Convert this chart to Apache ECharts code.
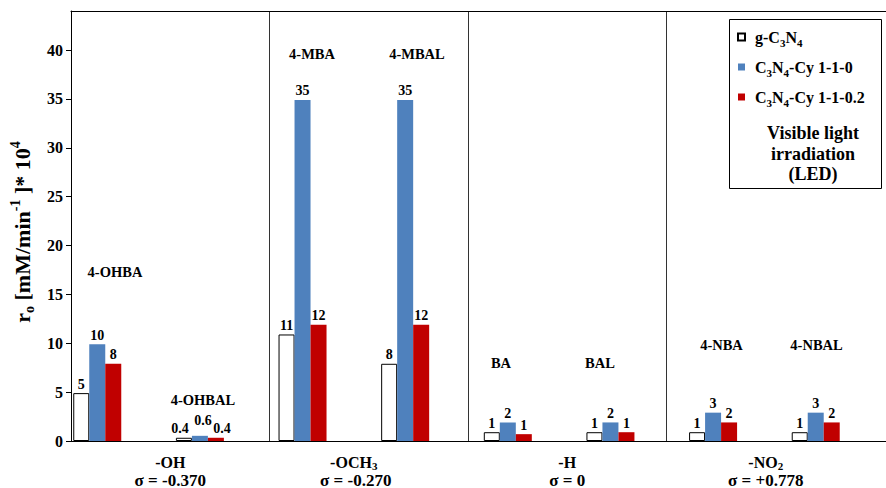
<!DOCTYPE html>
<html><head><meta charset="utf-8">
<script src="https://cdn.jsdelivr.net/npm/echarts@6/dist/echarts.min.js"></script>
<style>html,body{margin:0;padding:0;background:#fff}#c{width:886px;height:488px}</style>
</head><body><div id="c"></div>
<script>
// ---- data ----
const categories = ['4-OHBA','4-OHBAL','4-MBA','4-MBAL','BA','BAL','4-NBA','4-NBAL'];
const seriesNames = ['g-C3N4','C3N4-Cy 1-1-0','C3N4-Cy 1-1-0.2'];
const gC3N4 = [4.9, 0.33, 10.9, 7.9, 0.9, 0.9, 0.9, 0.9];
const cy110 = [9.9, 0.53, 34.9, 34.9, 1.9, 1.9, 2.9, 2.9];
const cy1102 = [7.9, 0.33, 11.9, 11.9, 0.7, 0.9, 1.9, 1.9];
const gC3N4Labels = ['5','0.4','11','8','1','1','1','1'];
const cy110Labels = ['10','0.6','35','35','2','2','3','3'];
const cy1102Labels = ['8','0.4','12','12','1','1','2','2'];
const yTicks = [0,5,10,15,20,25,30,35,40];
const groups = ['-OH','-OCH3','-H','-NO2'];
const sigmas = ['σ = -0.370','σ = -0.270','σ = 0','σ = +0.778'];

// ---- helpers ----
const FF = '"Liberation Serif","Times New Roman",serif';
function chem(s, a, b) {
  let out = '', buf = '';
  for (let i = 0; i < s.length; i++) {
    const ch = s[i];
    if (/\d/.test(ch) && i > 0 && /[A-Z]/.test(s[i-1])) {
      if (buf) { out += '{' + a + '|' + buf + '}'; buf = ''; }
      out += '{' + b + '|' + ch + '}';
    } else buf += ch;
  }
  if (buf) out += '{' + a + '|' + buf + '}';
  return out;
}
const barLabel = (arr) => ({
  show: true, position: 'top', distance: 2, color: '#000',
  fontFamily: FF, fontWeight: 'bold', fontSize: 14,
  formatter: p => arr[p.dataIndex]
});
// small label nudges for the crowded 4-OHBAL cluster (index 1)
const labelNudge = [[-4, 0], [3, -6], [6, 0]];
const withNudge = (arr, s) => arr.map((v, i) => i === 1 ? {value: v, label: {offset: labelNudge[s]}} : v);
const annot = [
  {name: '4-OHBA', y: 17.3, dx: 17.7},
  {name: '4-OHBAL', y: 4.2, dx: 3},
  {name: '4-MBA', y: 39.6, dx: 9.5},
  {name: '4-MBAL', y: 39.6, dx: 11.8},
  {name: 'BA', y: 8.0, dx: -6.8},
  {name: 'BAL', y: 8.0, dx: -10.5},
  {name: '4-NBA', y: 9.8, dx: 8.4},
  {name: '4-NBAL', y: 9.8, dx: 0.8}
];

const chart = echarts.init(document.getElementById('c'), null, {renderer: 'svg'});
const TOP = 11, BOTTOM = 47;
const tStyle = {fontFamily: FF, fontWeight: 'bold', fontSize: 16, lineHeight: 18, color: '#000'};
const tsStyle = {fontFamily: FF, fontWeight: 'bold', fontSize: 11, lineHeight: 11, verticalAlign: 'bottom', color: '#000'};
const sStyle = {fontFamily: FF, fontWeight: 'bold', fontSize: 17, lineHeight: 18, color: '#000'};
const option = {
  animation: false,
  backgroundColor: '#fff',
  grid: [
    {left: 71, right: 0, top: TOP, bottom: BOTTOM, outerBoundsMode: 'none'},
    {left: 71, right: 21, top: TOP, bottom: BOTTOM, outerBoundsMode: 'none'},
    {left: 45.94, right: 18.96, top: TOP, bottom: BOTTOM, outerBoundsMode: 'none'}
  ],
  xAxis: [
    {type: 'value', gridIndex: 0, min: 0, max: 1, position: 'bottom',
     axisLine: {show: true, onZero: false, lineStyle: {color: '#000', width: 1}},
     axisTick: {show: false}, axisLabel: {show: false}, splitLine: {show: false}},
    {type: 'value', gridIndex: 0, min: 0, max: 1, position: 'top',
     axisLine: {show: true, onZero: false, lineStyle: {color: '#000', width: 1}},
     axisTick: {show: false}, axisLabel: {show: false}, splitLine: {show: false}},
    {type: 'category', gridIndex: 1, data: groups, boundaryGap: true,
     axisLine: {show: false}, axisTick: {show: false},
     splitLine: {show: true, showMinLine: false, showMaxLine: false, lineStyle: {color: '#333', width: 1}},
     axisLabel: {interval: 0, margin: 12, color: '#000',
       formatter: (v, i) => {
         const k = i === 1 ? '1' : '';
         return chem(v, 't', 'ts' + k) + '\n{s' + k + '|' + sigmas[i] + '}';
       },
       rich: {
         t: tStyle, ts: tsStyle, s: sStyle,
         ts1: Object.assign({}, tsStyle, {padding: [0, 30, 0, 0]}),
         s1: Object.assign({}, sStyle, {padding: [0, 26, 0, 0]})
       }}},
    {type: 'category', gridIndex: 2, data: categories, show: false}
  ],
  yAxis: [
    {type: 'value', gridIndex: 0, min: 0, max: 44, interval: 5,
     axisLine: {show: true, onZero: false, lineStyle: {color: '#000', width: 1}},
     axisTick: {show: true, inside: false, length: 5, customValues: yTicks, lineStyle: {color: '#000'}},
     axisLabel: {customValues: yTicks, margin: 8, color: '#000', fontFamily: FF, fontWeight: 'bold', fontSize: 16},
     splitLine: {show: false},
     name: '{a|r}{b|o}{a| [mM/min}{c|-1}{a| ]* 10}{c|4}',
     nameLocation: 'middle', nameGap: 25,
     nameTextStyle: {padding: [0, 12, 0, 0], rich: {
       a: {fontFamily: FF, fontWeight: 'bold', fontSize: 22, lineHeight: 28, color: '#000'},
       b: {fontFamily: FF, fontWeight: 'bold', fontSize: 14, lineHeight: 14, verticalAlign: 'bottom', color: '#000'},
       c: {fontFamily: FF, fontWeight: 'bold', fontSize: 14, lineHeight: 14, verticalAlign: 'top', color: '#000'}
     }}},
    {type: 'value', gridIndex: 1, min: 0, max: 44, show: false},
    {type: 'value', gridIndex: 2, min: 0, max: 44, show: false}
  ],
  legend: {
    orient: 'vertical', left: 737, top: 29, padding: 0, itemWidth: 7, itemHeight: 7, itemGap: 11,
    icon: 'rect', z: 10, selectedMode: false, data: seriesNames,
    formatter: n => chem(n, 'n', 's'),
    textStyle: {padding: [0, 0, 0, 5], rich: {
      n: {fontFamily: FF, fontWeight: 'bold', fontSize: 16, lineHeight: 22, color: '#000'},
      s: {fontFamily: FF, fontWeight: 'bold', fontSize: 11, lineHeight: 11, verticalAlign: 'bottom', color: '#000'}
    }}
  },
  graphic: [
    {type: 'rect', z: 1, shape: {x: 729.5, y: 19.5, width: 152, height: 169},
     style: {fill: '#fff', stroke: '#000', lineWidth: 1}},
    {type: 'text', z: 2, x: 813, y: 123,
     style: {text: 'Visible light\nirradiation\n(LED)', font: 'bold 18px ' + FF, fill: '#000',
       textAlign: 'center', align: 'center', textVerticalAlign: 'top', verticalAlign: 'top', lineHeight: 20.5}}
  ],
  series: [
    {name: seriesNames[0], type: 'bar', xAxisIndex: 3, yAxisIndex: 2, data: withNudge(gC3N4, 0), barWidth: 16, barGap: '0%',
     itemStyle: {color: '#fff', borderColor: '#000', borderWidth: 1}, label: barLabel(gC3N4Labels), silent: true},
    {name: seriesNames[1], type: 'bar', xAxisIndex: 3, yAxisIndex: 2, data: withNudge(cy110, 1), barWidth: 16, barGap: '0%',
     itemStyle: {color: '#4F81BD'}, label: barLabel(cy110Labels), silent: true,
     markPoint: {symbol: 'circle', symbolSize: 0, silent: true,
       label: {show: true, position: 'inside', color: '#000', fontFamily: FF, fontWeight: 'bold', fontSize: 14.5, formatter: '{b}'},
       data: annot.map(a => ({name: a.name, coord: [a.name, a.y], label: {offset: [a.dx, 0]}}))}},
    {name: seriesNames[2], type: 'bar', xAxisIndex: 3, yAxisIndex: 2, data: withNudge(cy1102, 2), barWidth: 16, barGap: '0%',
     itemStyle: {color: '#C00000'}, label: barLabel(cy1102Labels), silent: true}
  ]
};
chart.setOption(option);
</script></body></html>
